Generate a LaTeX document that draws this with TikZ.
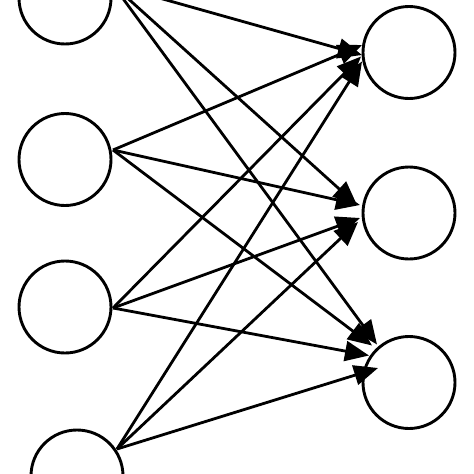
\documentclass[tikz,border=0pt]{standalone}
\usetikzlibrary{arrows.meta,calc}
\begin{document}
\begin{tikzpicture}[x=1pt,y=-1pt,
  neuron/.style={circle,draw,line width=2.9pt,minimum size=92pt,inner sep=0pt,fill=white},
  link/.style={line width=2.8pt,-{Triangle[length=24pt,width=20pt]}}]
\useasboundingbox (0,0) rectangle (474,474);
% left layer
\node[neuron] (L1) at (65,-2) {};
\node[neuron] (L2) at (65,159.5) {};
\node[neuron] (L3) at (65,307) {};
\node[neuron] (L4) at (77,476) {};
% right layer
\node[neuron] (R1) at (409,52.5) {};
\node[neuron] (R2) at (409,213) {};
\node[neuron] (R3) at (409,382.5) {};
% connections from L1
\draw[link] ($(L1)+(48,-13)$) -- ($(R1)+(-47,2.5)$);
\draw[link] ($(L1)+(48,-13)$) -- ($(R2)+(-52,-8)$);
\draw[link] ($(L1)+(48,-13)$) -- ($(R3)+(-32,-38)$);
% connections from L2
\draw[link] ($(L2)+(48,-9.5)$) -- ($(R1)+(-47,-7.5)$);
\draw[link] ($(L2)+(48,-9.5)$) -- ($(R2)+(-49,-8)$);
\draw[link] ($(L2)+(48,-9.5)$) -- ($(R3)+(-37,-37)$);
% connections from L3
\draw[link] ($(L3)+(48,1)$) -- ($(R1)+(-48,4)$);
\draw[link] ($(L3)+(48,1)$) -- ($(R2)+(-49,5)$);
\draw[link] ($(L3)+(48,1)$) -- ($(R3)+(-40,-27)$);
% connections from L4
\draw[link] ($(L4)+(40,-27)$) -- ($(R1)+(-47,9)$);
\draw[link] ($(L4)+(40,-27)$) -- ($(R2)+(-51,9)$);
\draw[link] ($(L4)+(40,-27)$) -- ($(R3)+(-31,-14.5)$);
\end{tikzpicture}
\end{document}
